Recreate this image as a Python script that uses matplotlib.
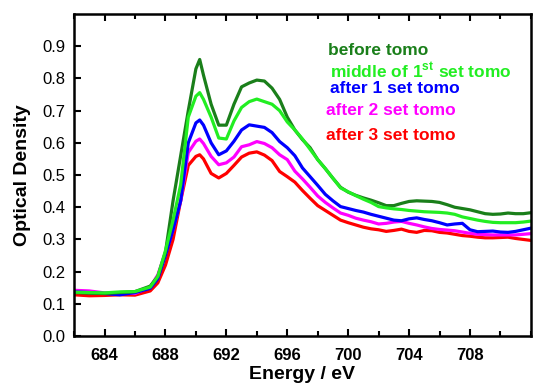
import matplotlib
matplotlib.use('agg')
from matplotlib import pyplot as plt
from matplotlib.ticker import MultipleLocator

plt.rcParams['font.family'] = ['Liberation Sans', 'DejaVu Sans']
plt.rcParams['mathtext.fontset'] = 'custom'
plt.rcParams['mathtext.bf'] = 'Liberation Sans:bold'
plt.rcParams['mathtext.rm'] = 'Liberation Sans:bold'

# Energy grid (eV)
energy = [682, 683, 684, 685, 686, 687, 687.5, 688, 688.5, 689, 689.5, 690, 690.25,
          690.5, 691, 691.5, 692, 692.5, 693, 693.5, 694, 694.5, 695, 695.5, 696,
          696.5, 697, 697.5, 698, 698.5, 699, 699.5, 700, 700.5, 701, 701.5, 702,
          702.5, 703, 703.5, 704, 704.5, 705, 705.5, 706, 706.5, 707, 707.5, 708,
          708.5, 709, 709.5, 710, 710.5, 711, 711.5, 712]

before_tomo = [0.135, 0.133, 0.132, 0.135, 0.138, 0.155, 0.185, 0.26, 0.42, 0.56, 0.70,
               0.83, 0.859, 0.81, 0.72, 0.655, 0.655, 0.72, 0.774, 0.786, 0.795, 0.792,
               0.77, 0.735, 0.68, 0.64, 0.61, 0.585, 0.548, 0.52, 0.49, 0.462, 0.447,
               0.437, 0.429, 0.422, 0.414, 0.405, 0.405, 0.412, 0.418, 0.42, 0.419,
               0.418, 0.415, 0.408, 0.40, 0.396, 0.392, 0.386, 0.38, 0.378, 0.379,
               0.382, 0.380, 0.380, 0.383]

middle_1st = [0.136, 0.135, 0.134, 0.137, 0.138, 0.152, 0.185, 0.265, 0.36, 0.47, 0.68,
              0.745, 0.756, 0.735, 0.68, 0.615, 0.612, 0.668, 0.71, 0.728, 0.736, 0.728,
              0.72, 0.70, 0.665, 0.64, 0.612, 0.58, 0.548, 0.52, 0.49, 0.46, 0.448,
              0.436, 0.425, 0.415, 0.402, 0.398, 0.395, 0.393, 0.390, 0.388, 0.386,
              0.385, 0.384, 0.382, 0.378, 0.370, 0.365, 0.360, 0.356, 0.353, 0.352,
              0.352, 0.352, 0.354, 0.357]

after_1 = [0.137, 0.135, 0.132, 0.128, 0.135, 0.148, 0.178, 0.25, 0.33, 0.42, 0.60,
           0.662, 0.671, 0.655, 0.60, 0.563, 0.575, 0.605, 0.640, 0.656, 0.652, 0.648,
           0.632, 0.604, 0.585, 0.56, 0.522, 0.495, 0.468, 0.44, 0.42, 0.402, 0.396,
           0.390, 0.385, 0.378, 0.372, 0.366, 0.360, 0.358, 0.364, 0.367, 0.362,
           0.358, 0.352, 0.345, 0.348, 0.350, 0.33, 0.324, 0.325, 0.326, 0.323,
           0.322, 0.325, 0.330, 0.335]

after_2 = [0.142, 0.140, 0.134, 0.133, 0.132, 0.152, 0.19, 0.26, 0.33, 0.42, 0.57,
           0.605, 0.612, 0.598, 0.558, 0.532, 0.538, 0.556, 0.588, 0.594, 0.604, 0.598,
           0.585, 0.563, 0.548, 0.512, 0.488, 0.462, 0.435, 0.415, 0.398, 0.382, 0.375,
           0.366, 0.360, 0.355, 0.348, 0.350, 0.354, 0.356, 0.350, 0.345, 0.339,
           0.334, 0.331, 0.329, 0.327, 0.323, 0.319, 0.316, 0.315, 0.314, 0.314,
           0.314, 0.314, 0.316, 0.318]

after_3 = [0.128, 0.125, 0.126, 0.128, 0.127, 0.14, 0.165, 0.22, 0.30, 0.42, 0.53,
           0.558, 0.563, 0.55, 0.505, 0.491, 0.505, 0.53, 0.556, 0.568, 0.572, 0.562,
           0.545, 0.511, 0.495, 0.478, 0.452, 0.428, 0.405, 0.39, 0.375, 0.36, 0.352,
           0.345, 0.338, 0.333, 0.330, 0.325, 0.328, 0.332, 0.325, 0.322, 0.328,
           0.327, 0.322, 0.320, 0.316, 0.312, 0.310, 0.307, 0.305, 0.305, 0.306,
           0.307, 0.303, 0.300, 0.297]

labels = ['before tomo', r'middle of 1$^{\mathbf{st}}$ set tomo', 'after 1 set tomo',
          'after 2 set tomo', 'after 3 set tomo']
colors = ['#1a7f1a', '#22ee22', '#0000ff', '#ff00ff', '#ff0000']

fig = plt.figure(figsize=(5.33, 3.86), dpi=100)
ax = fig.add_axes([0.139, 0.1295, 0.857, 0.834])

# drawing order: lime ends up on top like in the original
series = [after_3, after_2, after_1, before_tomo, middle_1st]
cols = [colors[4], colors[3], colors[2], colors[0], colors[1]]
for y, c in zip(series, cols):
    ax.plot(energy, y, color=c, lw=2.3)

ax.set_xlim(682, 712)
ax.set_ylim(0, 1.0)
ax.xaxis.set_minor_locator(MultipleLocator(2))
ax.set_xticks([684, 688, 692, 696, 700, 704, 708])
yt = [0.0, 0.1, 0.2, 0.3, 0.4, 0.5, 0.6, 0.7, 0.8, 0.9]
ax.set_yticks(yt)
ax.set_yticklabels([f'{v:.1f}' for v in yt])

ax.tick_params(which='both', direction='in', top=True, right=False, width=1.5)
ax.tick_params(which='major', length=5, labelsize=12)
ax.tick_params(which='minor', length=3.5)
ax.tick_params(axis='x', which='major', pad=8.5)
ax.tick_params(axis='y', which='major', pad=6.5)
for lbl in ax.get_xticklabels():
    lbl.set_fontweight('bold')
for s in ax.spines.values():
    s.set_linewidth(1.8)

ax.set_xlabel('Energy / eV', fontsize=14, fontweight='bold', labelpad=2)
ax.set_ylabel('Optical Density', fontsize=14, fontweight='bold', labelpad=8)

# coloured text legend
pos = [(0.556, 0.888), (0.560, 0.823), (0.560, 0.770), (0.551, 0.699), (0.551, 0.624)]
for (x, y), t, c in zip(pos, labels, colors):
    ax.text(x, y, t, color=c, fontsize=12.5, fontweight='bold', transform=ax.transAxes,
            va='center', ha='left')

plt.savefig('out.png', dpi=100)
plt.close()
